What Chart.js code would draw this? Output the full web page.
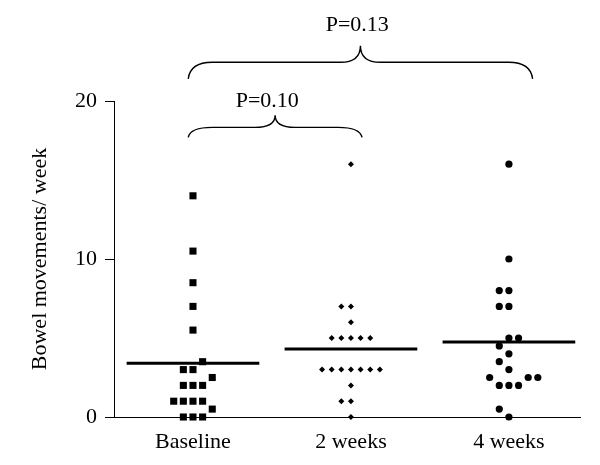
<!DOCTYPE html>
<html>
<head>
<meta charset="utf-8">
<script src="https://cdn.jsdelivr.net/npm/chart.js@4/dist/chart.umd.min.js"></script>
<style>
  html, body { margin: 0; padding: 0; background: #fff; }
  #wrap { width: 600px; height: 465px; }
</style>
</head>
<body>
<div id="wrap"><canvas id="dotPlot"></canvas></div>
<script>
var categories = ["Baseline", "2 weeks", "4 weeks"];
var baselineValues = [0, 0, 0, 0.5, 1, 1, 1, 1, 2, 2, 2, 2.5, 3, 3, 3.5, 5.5, 7, 8.5, 10.5, 14];
var week2Values = [0, 1, 1, 2, 3, 3, 3, 3, 3, 3, 3, 5, 5, 5, 5, 5, 6, 7, 7, 16];
var week4Values = [0, 0.5, 2, 2, 2, 2.5, 2.5, 2.5, 3, 3.5, 4, 4.5, 5, 5, 7, 7, 8, 8, 10, 16];
var yTicks = [0, 10, 20];
var pLabels = ["P=0.10", "P=0.13"];

Chart.defaults.font.family = "'Liberation Serif', 'Times New Roman', serif";
Chart.defaults.font.size = 22;
Chart.defaults.color = "#000";

// simple beeswarm: put each value in the first free slot near the centre
function swarm(values, center) {
  var slots = [0, -1, 1, 2, -2, 3, -3, 4, -4];
  var step = 0.061;
  var placed = [];
  values.slice().sort(function(a, b) { return a - b; }).forEach(function(v) {
    for (var i = 0; i < slots.length; i++) {
      var s = slots[i];
      var hit = placed.some(function(p) { return p.slot === s && Math.abs(p.v - v) < 0.6; });
      if (!hit) { placed.push({ v: v, slot: s }); break; }
    }
  });
  return placed.map(function(p) { return { x: center + p.slot * step, y: p.v }; });
}

function mean(values) {
  return values.reduce(function(a, b) { return a + b; }, 0) / values.length;
}

function meanLine(values, center) {
  var m = mean(values);
  return [{ x: center - 0.42, y: m }, { x: center + 0.42, y: m }];
}

var series = [baselineValues, week2Values, week4Values];
var markers = [
  { style: "rect", radius: 5 },
  { style: "rectRot", radius: 3 },
  { style: "circle", radius: 3.6 }
];

var datasets = [];
series.forEach(function(values, i) {
  datasets.push({
    data: swarm(values, i),
    pointStyle: markers[i].style,
    pointRadius: markers[i].radius,
    backgroundColor: "#000",
    borderColor: "#000",
    borderWidth: 0,
    showLine: false,
    clip: false
  });
  datasets.push({
    data: meanLine(values, i),
    showLine: true,
    borderColor: "#000",
    borderWidth: 3,
    pointRadius: 0,
    clip: false
  });
});

var braces = [
  { from: -0.03, to: 1.07, base: 17.7, mid: 18.33, tip: 19.1, labelX: 0.47, labelY: 20.0, text: pLabels[0] },
  { from: -0.03, to: 2.15, base: 21.4, mid: 22.45, tip: 23.5, labelX: 1.04, labelY: 24.8, text: pLabels[1] }
];

var bracePlugin = {
  id: "braces",
  afterDraw: function(chart) {
    var ctx = chart.ctx;
    var xs = chart.scales.x, ys = chart.scales.y;
    ctx.save();
    ctx.strokeStyle = "#000";
    ctx.lineWidth = 1.4;
    braces.forEach(function(b) {
      var x1 = xs.getPixelForValue(b.from);
      var x2 = xs.getPixelForValue(b.to);
      var xc = (x1 + x2) / 2;
      var yb = ys.getPixelForValue(b.base);
      var ym = ys.getPixelForValue(b.mid);
      var yt = ys.getPixelForValue(b.tip);
      var r = 24, rt = 20;
      ctx.beginPath();
      ctx.moveTo(x1, yb);
      ctx.quadraticCurveTo(x1 + 2, ym, x1 + r, ym);
      ctx.lineTo(xc - rt, ym);
      ctx.quadraticCurveTo(xc, ym, xc, yt);
      ctx.quadraticCurveTo(xc, ym, xc + rt, ym);
      ctx.lineTo(x2 - r, ym);
      ctx.quadraticCurveTo(x2 - 2, ym, x2, yb);
      ctx.stroke();
      ctx.fillStyle = "#000";
      ctx.font = "22px 'Liberation Serif', serif";
      ctx.textAlign = "center";
      ctx.textBaseline = "middle";
      ctx.fillText(b.text, xs.getPixelForValue(b.labelX), ys.getPixelForValue(b.labelY));
    });
    ctx.restore();
  }
};

var dotPlot = new Chart(document.getElementById("dotPlot"), {
  type: "scatter",
  data: { datasets: datasets },
  options: {
    responsive: true,
    maintainAspectRatio: false,
    animation: false,
    layout: { padding: { top: 101, right: 20, bottom: 0, left: 0 } },
    plugins: { legend: { display: false }, tooltip: { enabled: false } },
    scales: {
      x: {
        type: "linear",
        min: -0.5,
        max: 2.45,
        afterBuildTicks: function(axis) {
          axis.ticks = categories.map(function(c, i) { return { value: i }; });
        },
        afterFit: function(axis) { axis.height = 48; },
        ticks: {
          padding: 12,
          callback: function(value) { return categories[value]; }
        },
        grid: { display: false, drawTicks: false },
        border: { display: true, color: "#000", width: 1 }
      },
      y: {
        min: 0,
        max: 20,
        afterBuildTicks: function(axis) {
          axis.ticks = yTicks.map(function(v) { return { value: v }; });
        },
        afterFit: function(axis) { axis.width = 114; },
        ticks: { padding: 8 },
        title: {
          display: true,
          text: "Bowel movements/ week",
          padding: { top: 27, bottom: 0 }
        },
        grid: { drawOnChartArea: false, drawTicks: true, tickLength: 9, color: "#000" },
        border: { display: true, color: "#000", width: 1 }
      }
    }
  },
  plugins: [bracePlugin]
});
</script>
</body>
</html>
